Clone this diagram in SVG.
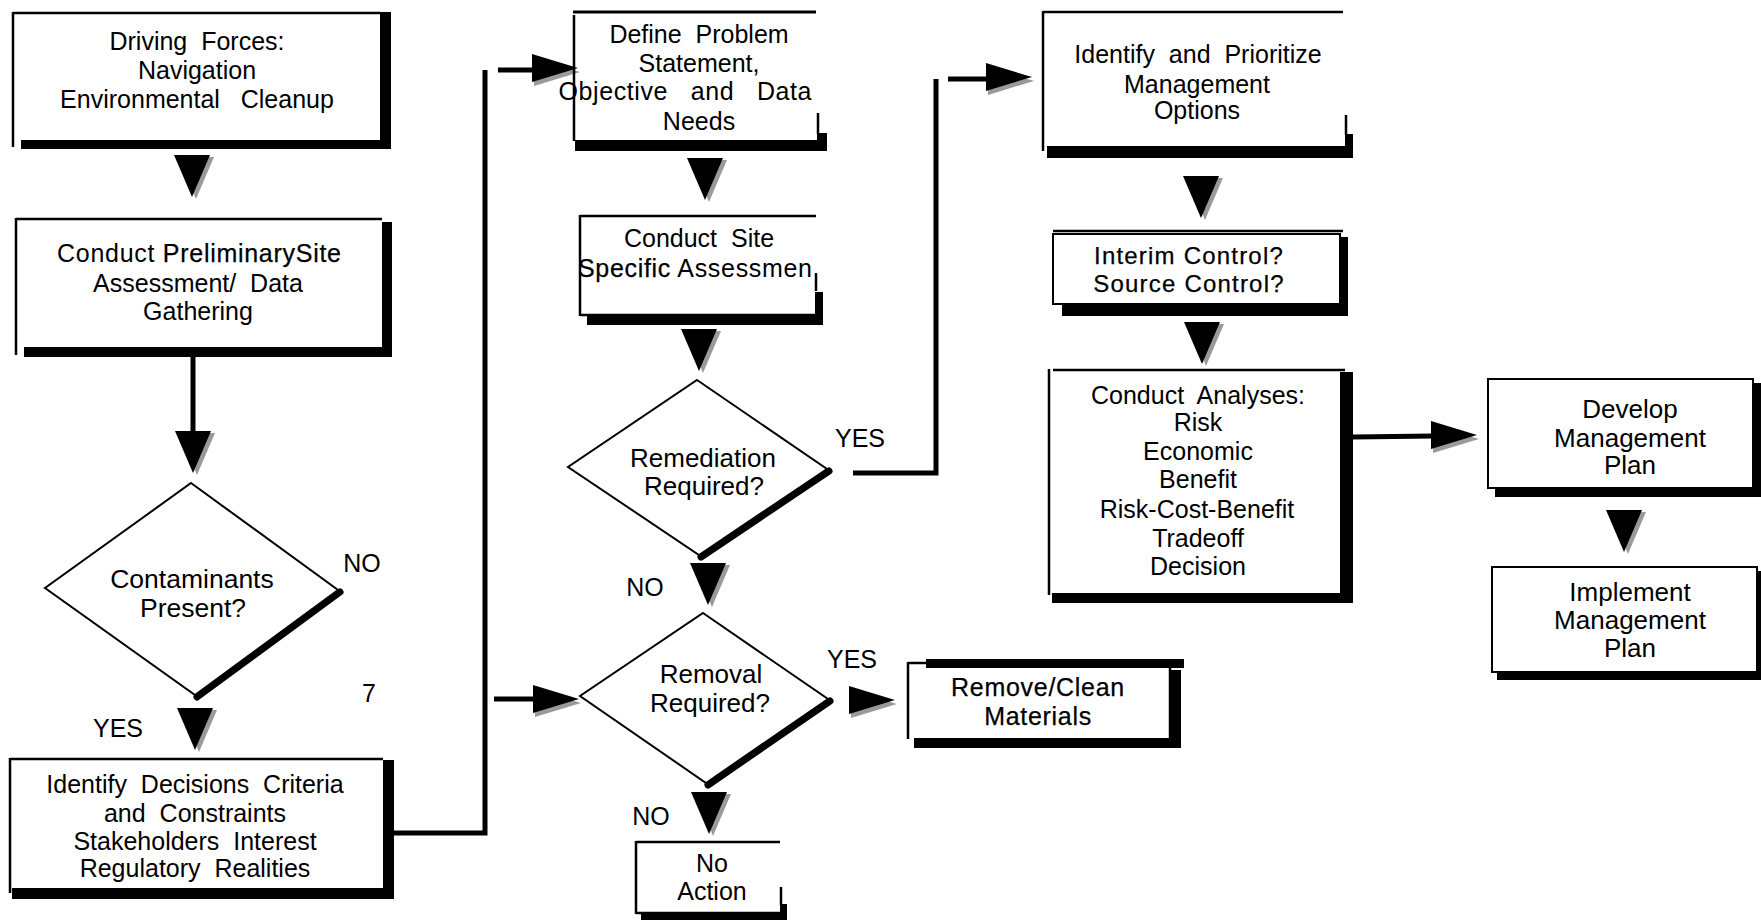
<svg xmlns="http://www.w3.org/2000/svg" xmlns:xlink="http://www.w3.org/1999/xlink" width="1761" height="920" viewBox="0 0 1761 920">
<style>
.t{font-family:"Liberation Sans",Arial,Helvetica,sans-serif;font-size:25px;fill:#000;text-anchor:middle}
.d{font-size:26.5px}
.hv{stroke:#000;stroke-width:0.25}
.s26{font-size:26px}
.ln{stroke:#000;stroke-width:2.5;fill:none}
.dia{stroke:#000;stroke-width:2;fill:#fff}
.dsh{stroke:#000;stroke-width:7;fill:none;stroke-linecap:round}
.c{stroke:#000;stroke-width:5;fill:none}
</style>
<defs>
<path id="dn" d="M-18,0 L18,0 L0,42 Z"/>
<g id="dnA"><use xlink:href="#dn" href="#dn" x="4" y="2" fill="#9a9a9a"/><use xlink:href="#dn" href="#dn" fill="#000"/></g>
<path id="rt" d="M0,-14 L0,14 L46,0 Z"/>
<g id="rtA"><use xlink:href="#rt" href="#rt" x="2" y="4" fill="#9a9a9a"/><use xlink:href="#rt" href="#rt" fill="#000"/></g>
</defs>
<rect width="1761" height="920" fill="#fff"/>

<g id="connectors">
<line class="c" x1="193" y1="357" x2="193" y2="434" stroke-width="6"/>
<polyline class="c" points="394,833 485,833 485,70"/>
<line class="c" x1="498" y1="70" x2="536" y2="70"/>
<line class="c" x1="494" y1="699" x2="536" y2="699"/>
<polyline class="c" points="853,473 936,473 936,79" stroke-width="5.5"/>
<line class="c" x1="948" y1="79" x2="989" y2="79"/>
<line class="c" x1="1353" y1="437" x2="1434" y2="436" stroke-width="6"/>
<use href="#dnA" xlink:href="#dnA" x="192" y="155"/>
<use href="#dnA" xlink:href="#dnA" x="193" y="431"/>
<use href="#dnA" xlink:href="#dnA" x="195" y="708"/>
<use href="#dnA" xlink:href="#dnA" x="705" y="158"/>
<use href="#dnA" xlink:href="#dnA" x="699" y="329"/>
<use href="#dnA" xlink:href="#dnA" x="708" y="563"/>
<use href="#dnA" xlink:href="#dnA" x="709" y="792"/>
<use href="#dnA" xlink:href="#dnA" x="1201" y="176"/>
<use href="#dnA" xlink:href="#dnA" x="1202" y="322"/>
<use href="#dnA" xlink:href="#dnA" x="1624" y="510"/>
<use href="#rtA" xlink:href="#rtA" x="532" y="68"/>
<use href="#rtA" xlink:href="#rtA" x="533" y="699"/>
<use href="#rtA" xlink:href="#rtA" x="986" y="77"/>
<use href="#rtA" xlink:href="#rtA" x="849" y="700"/>
<use href="#rtA" xlink:href="#rtA" x="1431" y="435"/>
<text class="t" x="362" y="572">NO</text>
<text class="t" x="369" y="702">7</text>
<text class="t" x="118" y="737">YES</text>
<text class="t" x="860" y="447">YES</text>
<text class="t" x="645" y="596">NO</text>
<text class="t" x="852" y="668">YES</text>
<text class="t" x="651" y="825">NO</text>
</g>

<g id="n-driving">
<line class="ln" x1="13" y1="13" x2="380" y2="13"/>
<line class="ln" x1="13" y1="12" x2="13" y2="147"/>
<rect x="380" y="12" width="11" height="137"/>
<rect x="21" y="140" width="370" height="9"/>
<text class="t" x="197" y="50">Driving&#160; Forces:</text>
<text class="t" x="197" y="79">Navigation</text>
<text class="t" x="197" y="108">Environmental&#160;&#160; Cleanup</text>
</g>

<g id="n-preliminary">
<line class="ln" x1="16" y1="219" x2="382" y2="219"/>
<line class="ln" x1="16" y1="218" x2="16" y2="355"/>
<rect x="382" y="222" width="10" height="135"/>
<rect x="24" y="347" width="368" height="10"/>
<text class="t" x="199" y="262" textLength="284" lengthAdjust="spacing">Conduct <tspan class="hv">PreliminarySite</tspan></text>
<text class="t" x="198" y="292">Assessment/&#160; Data</text>
<text class="t" x="198" y="320">Gathering</text>
</g>

<g id="n-contaminants">
<line class="dsh" x1="340" y1="592" x2="197" y2="697"/>
<polygon class="dia" points="191,483 338,590 195,695 45,588"/>
<text class="t d" x="192" y="588">Contaminants</text>
<text class="t d" x="193" y="617">Present?</text>
</g>

<g id="n-criteria">
<line class="ln" x1="10" y1="759" x2="383" y2="759"/>
<line class="ln" x1="10" y1="758" x2="10" y2="893"/>
<rect x="383" y="760" width="11" height="139"/>
<rect x="12" y="888" width="382" height="11"/>
<text class="t" x="195" y="793">Identify&#160; Decisions&#160; Criteria</text>
<text class="t" x="195" y="822">and&#160; Constraints</text>
<text class="t" x="195" y="850">Stakeholders&#160; Interest</text>
<text class="t" x="195" y="877">Regulatory&#160; Realities</text>
</g>

<g id="n-define">
<text class="t" x="699" y="43">Define&#160; Problem</text>
<text class="t" x="699" y="72">Statement,</text>
<text class="t" x="685" y="100" textLength="253" lengthAdjust="spacing">Objective&#160;&#160; and&#160;&#160; Data</text>
<text class="t" x="699" y="130">Needs</text>
<line x1="573" y1="12" x2="816" y2="12" stroke="#000" stroke-width="3"/>
<line class="ln" x1="574" y1="15" x2="574" y2="141" stroke-width="2"/>
<line class="ln" x1="818" y1="113" x2="818" y2="134"/>
<rect x="817" y="133" width="10" height="18"/>
<rect x="575" y="140" width="252" height="11"/>
</g>

<g id="n-sitespecific">
<text class="t" x="699" y="247">Conduct&#160; Site</text>
<text class="t" x="695" y="277" textLength="234" lengthAdjust="spacing"><tspan class="hv">Specific</tspan> Assessmen</text>
<line class="ln" x1="580" y1="216" x2="816" y2="216"/>
<line class="ln" x1="580" y1="215" x2="580" y2="316"/>
<line class="ln" x1="580" y1="315" x2="816" y2="315" stroke-width="2"/>
<line class="ln" x1="816" y1="273" x2="816" y2="291" stroke-width="2"/>
<rect x="815" y="292" width="8" height="33"/>
<rect x="587" y="316" width="236" height="9"/>
</g>

<g id="n-remediation">
<line class="dsh" x1="829" y1="471" x2="701" y2="557"/>
<polygon class="dia" points="697,380 827,469 699,555 568,467"/>
<text class="t" x="703" y="467" style="font-size:26px">Remediation</text>
<text class="t" x="704" y="495" style="font-size:26px">Required?</text>
</g>

<g id="n-removal">
<line class="dsh" x1="830" y1="701" x2="708" y2="785"/>
<polygon class="dia" points="703,613 828,699 706,783 580,696"/>
<text class="t" x="711" y="683" style="font-size:26px">Removal</text>
<text class="t" x="710" y="712" style="font-size:26px">Required?</text>
</g>

<g id="n-noaction">
<line class="ln" x1="636" y1="842" x2="780" y2="842"/>
<line class="ln" x1="636" y1="841" x2="636" y2="914"/>
<line class="ln" x1="636" y1="913" x2="780" y2="913" stroke-width="2"/>
<line class="ln" x1="781" y1="887" x2="781" y2="905"/>
<rect x="780" y="904" width="7" height="16"/>
<rect x="641" y="913" width="146" height="7"/>
<text class="t" x="712" y="872">No</text>
<text class="t" x="712" y="900">Action</text>
</g>

<g id="n-removeclean">
<line class="ln" x1="908" y1="663" x2="928" y2="663"/>
<line class="ln" x1="908" y1="662" x2="908" y2="739"/>
<rect x="926" y="659" width="258" height="9"/>
<line class="ln" x1="1170" y1="668" x2="1170" y2="739" stroke-width="2"/>
<rect x="1170" y="670" width="11" height="78"/>
<rect x="914" y="738" width="267" height="10"/>
<text class="t hv" x="1038" y="696" style="letter-spacing:0.7px">Remove/Clean</text>
<text class="t hv" x="1038" y="725" style="letter-spacing:0.7px">Materials</text>
</g>

<g id="n-prioritize">
<line class="ln" x1="1043" y1="12" x2="1343" y2="12"/>
<line class="ln" x1="1043" y1="11" x2="1043" y2="151" stroke-width="3"/>
<line class="ln" x1="1346" y1="115" x2="1346" y2="135"/>
<rect x="1345" y="134" width="8" height="24"/>
<rect x="1047" y="146" width="306" height="12"/>
<text class="t" x="1198" y="63">Identify&#160; and&#160; Prioritize</text>
<text class="t" x="1197" y="93">Management</text>
<text class="t" x="1197" y="119">Options</text>
</g>

<g id="n-interim">
<line class="ln" x1="1053" y1="231" x2="1343" y2="231"/>
<rect x="1053" y="234" width="287" height="70" fill="#fff" stroke="#000" stroke-width="2"/>
<rect x="1340" y="237" width="8" height="79"/>
<rect x="1062" y="304" width="286" height="12"/>
<text class="t hv" x="1189" y="264" style="font-size:24px;letter-spacing:1.2px">Interim Control?</text>
<text class="t hv" x="1189" y="292" style="font-size:24px;letter-spacing:1.2px">Source Control?</text>
</g>

<g id="n-analyses">
<line class="ln" x1="1053" y1="370" x2="1345" y2="370"/>
<line class="ln" x1="1049" y1="369" x2="1049" y2="595" stroke-width="3"/>
<rect x="1340" y="372" width="13" height="231"/>
<rect x="1052" y="593" width="301" height="10"/>
<text class="t" x="1198" y="404">Conduct&#160; Analyses:</text>
<text class="t" x="1198" y="431">Risk</text>
<text class="t" x="1198" y="460">Economic</text>
<text class="t" x="1198" y="488">Benefit</text>
<text class="t" x="1197" y="518">Risk-Cost-Benefit</text>
<text class="t" x="1198" y="547">Tradeoff</text>
<text class="t" x="1198" y="575">Decision</text>
</g>

<g id="n-develop">
<rect x="1488" y="379" width="265" height="109" fill="#fff" stroke="#000" stroke-width="2"/>
<rect x="1753" y="383" width="8" height="114"/>
<rect x="1495" y="488" width="266" height="9"/>
<text class="t s26" x="1630" y="418">Develop</text>
<text class="t s26" x="1630" y="447">Management</text>
<text class="t s26" x="1630" y="474">Plan</text>
</g>

<g id="n-implement">
<rect x="1492" y="567" width="265" height="105" fill="#fff" stroke="#000" stroke-width="2"/>
<rect x="1757" y="571" width="6" height="109"/>
<rect x="1497" y="672" width="266" height="8"/>
<text class="t s26" x="1630" y="601">Implement</text>
<text class="t s26" x="1630" y="629">Management</text>
<text class="t s26" x="1630" y="657">Plan</text>
</g>
</svg>
